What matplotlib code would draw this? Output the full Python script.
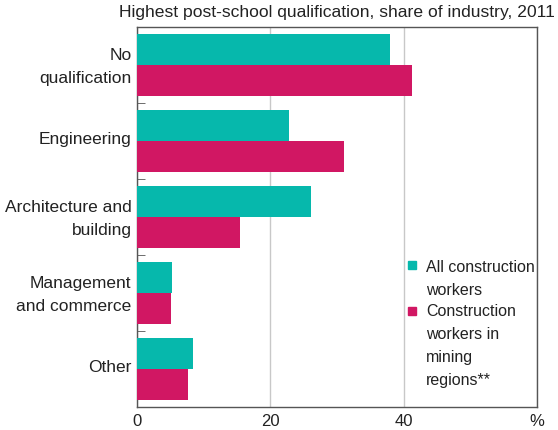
import numpy as np
import matplotlib.pyplot as plt
import matplotlib.transforms as mtransforms
from matplotlib.patches import Rectangle

# カテゴリ（上から順）
categories = ['No\nqualification', 'Engineering', 'Architecture and\nbuilding',
              'Management\nand commerce', 'Other']
# 系列値 [%]
all_workers = [37.9, 22.8, 26.1, 5.2, 8.4]
mining_workers = [41.2, 31.0, 15.5, 5.1, 7.7]
series_labels = ['All construction\nworkers', 'Construction\nworkers in\nmining\nregions**']
x_ticks = [0, 20, 40, 60]
x_ticklabels = ['0', '20', '40', '%']

TEAL = '#06b8ac'
MAGENTA = '#d11763'
FRAME = '#555555'
TEXT = '#222222'

plt.rcParams['font.family'] = ['Liberation Sans', 'DejaVu Sans']

fig = plt.figure(figsize=(5.58, 4.31), dpi=100)
# 軸位置（ピクセル基準）
ax_l, ax_r, ax_t, ax_b = 137, 537, 28, 408
ax = fig.add_axes([ax_l / 558, 1 - ax_b / 431, (ax_r - ax_l) / 558, (ax_b - ax_t) / 431])

y = np.arange(len(categories))
h = 0.405
ax.barh(y - h / 2, all_workers, height=h, color=TEAL, zorder=3)
ax.barh(y + h / 2, mining_workers, height=h, color=MAGENTA, zorder=3)

ax.set_xlim(0, 60)
ax.set_ylim(len(categories) - 0.5, -0.5)

ax.set_xticks(x_ticks)
ax.set_xticklabels(x_ticklabels, fontsize=12, color=TEXT)
ax.tick_params(axis='x', length=0, pad=4)
ax.grid(axis='x', color='#c8c8c8', linewidth=1, zorder=0)

ax.set_yticks(y)
ax.set_yticklabels(categories, fontsize=12.5, color=TEXT, linespacing=1.65)
ax.tick_params(axis='y', which='major', length=0, pad=4)
ax.set_yticks(np.arange(len(categories) - 1) + 0.5, minor=True)
ax.tick_params(axis='y', which='minor', direction='in', length=6, color=FRAME)

# ラベルを少し上へ
shift = mtransforms.ScaledTranslation(0, 4 / 100, fig.dpi_scale_trans)
for lbl in ax.get_yticklabels():
    lbl.set_transform(lbl.get_transform() + shift)

for s in ax.spines.values():
    s.set_color(FRAME)
    s.set_linewidth(1)

fig.text((ax_l + ax_r) / 2 / 558, 1 - 13 / 431,
         'Highest post-school qualification, share of industry, 2011',
         fontsize=12.6, color=TEXT, ha='center', va='center')

# 凡例（手動配置：マーカーを1行目に揃える）
aw = ax_r - ax_l
ah = ax_b - ax_t
legend_items = [
    (TEAL, series_labels[0], 266, 279),
    (MAGENTA, series_labels[1], 312, 346),
]
for color, label, sq_y, txt_y in legend_items:
    ax.add_patch(Rectangle(((408 - ax_l) / aw, (ax_b - sq_y - 4) / ah), 8 / aw, 8 / ah,
                           transform=ax.transAxes, color=color, zorder=4, clip_on=False))
    ax.text((426 - ax_l) / aw, (ax_b - txt_y) / ah, label, transform=ax.transAxes,
            fontsize=11.5, color=TEXT, ha='left', va='center', linespacing=1.65, zorder=4)

fig.savefig('out.png', dpi=100)
